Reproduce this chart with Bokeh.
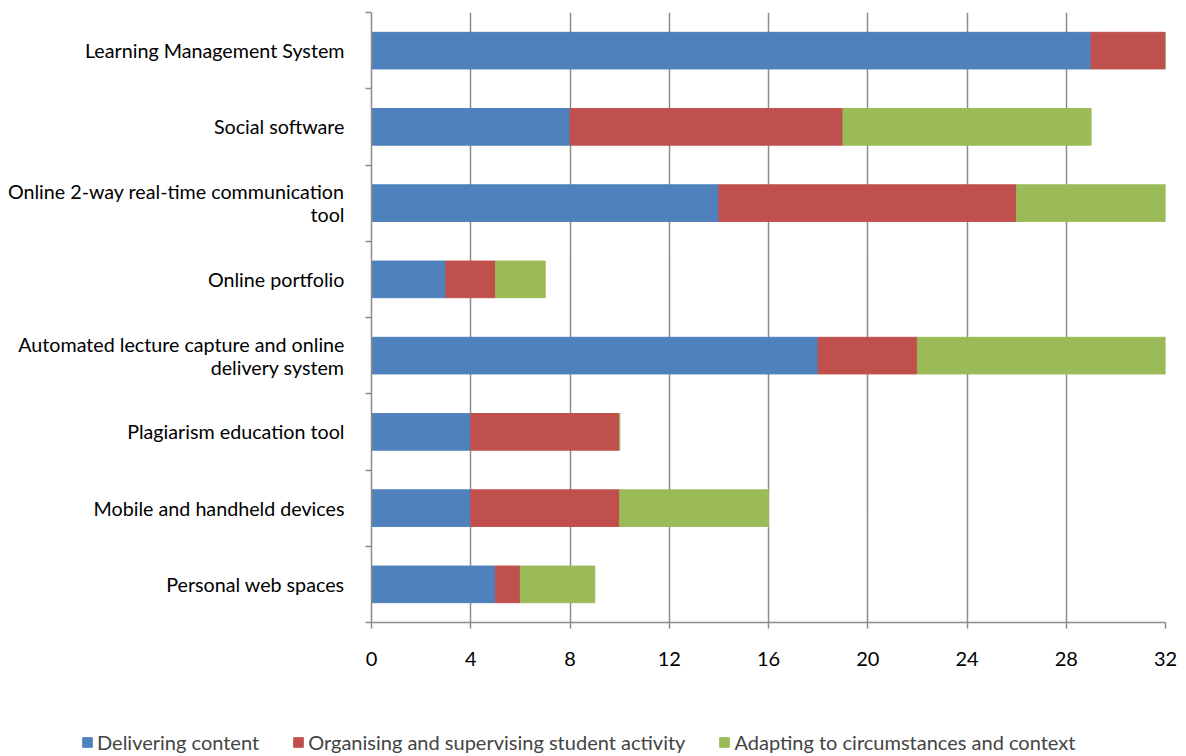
from bokeh.plotting import figure
from bokeh.models import ColumnDataSource, FixedTicker, Legend, LegendItem, Range1d
from bokeh.layouts import column, row
from bokeh.embed import file_html
from bokeh.resources import INLINE

categories = [
    "Learning Management System",
    "Social software",
    "Online 2-way real-time communication\ntool",
    "Online portfolio",
    "Automated lecture capture and online\ndelivery system",
    "Plagiarism education tool",
    "Mobile and handheld devices",
    "Personal web spaces",
]
delivering = [29, 8, 14, 3, 18, 4, 4, 5]
organising = [3, 11, 12, 2, 4, 6, 6, 1]
adapting = [0, 10, 6, 2, 10, 0, 6, 3]
series_names = [
    "Delivering content",
    "Organising and supervising student activity",
    "Adapting to circumstances and context",
]
colors = ["#4F81BD", "#C0504D", "#9BBB59"]
x_ticks = [0, 4, 8, 12, 16, 20, 24, 28, 32]

FONT = "Lato"
FS = "20px"
n = len(categories)
ypos = [n - i - 0.5 for i in range(n)]
b0 = [0] * n
b1 = delivering[:]
b2 = [d + o for d, o in zip(delivering, organising)]
e2 = [a + b for a, b in zip(b2, adapting)]

src = ColumnDataSource(dict(y=ypos, l0=b0, r0=b1, l1=b1, r1=b2, l2=b2, r2=e2))

p = figure(width=1186, height=716, output_backend="svg", toolbar_location=None,
           x_range=Range1d(0, 32), y_range=Range1d(0, n),
           min_border_left=371, min_border_right=21, min_border_top=12,
           min_border_bottom=94)
p.outline_line_color = None

H = 0.48
p.hbar(y="y", left="l0", right="r0", height=H, color=colors[0], source=src)
p.hbar(y="y", left="l1", right="r1", height=H, color=colors[1], source=src)
p.hbar(y="y", left="l2", right="r2", height=H, color=colors[2], source=src)

grey = "#8C8C8C"
# x axis
p.xaxis.ticker = FixedTicker(ticks=x_ticks)
p.xaxis.axis_line_color = grey
p.xaxis.axis_line_width = 1.5
p.xaxis.major_tick_line_color = grey
p.xaxis.major_tick_line_width = 1.5
p.xaxis.major_tick_out = 6
p.xaxis.major_tick_in = 0
p.xaxis.minor_tick_line_color = None
p.xaxis.major_label_standoff = 23
p.xaxis.major_label_text_font = FONT
p.xaxis.major_label_text_font_size = FS
p.xaxis.major_label_text_color = "#000000"

# y axis
p.yaxis.ticker = FixedTicker(ticks=ypos, minor_ticks=list(range(n + 1)))
p.yaxis.major_label_overrides = {y: c for y, c in zip(ypos, categories)}
p.yaxis.axis_line_color = grey
p.yaxis.axis_line_width = 1.5
p.yaxis.major_tick_line_color = None
p.yaxis.major_tick_out = 0
p.yaxis.major_tick_in = 0
p.yaxis.minor_tick_line_color = grey
p.yaxis.minor_tick_line_width = 1.5
p.yaxis.minor_tick_out = 6
p.yaxis.minor_tick_in = 0
p.yaxis.major_label_standoff = 21
p.yaxis.major_label_text_font = FONT
p.yaxis.major_label_text_font_size = "19.7px"
p.yaxis.major_label_text_line_height = 1.0
p.yaxis.major_label_text_color = "#000000"

p.xgrid.ticker = FixedTicker(ticks=x_ticks)
p.xgrid.grid_line_color = grey
p.xgrid.grid_line_width = 1.5
p.ygrid.grid_line_color = None

# legend strip (its own plot, frame spans the whole strip)
lf = figure(width=1186, height=40, output_backend="svg", toolbar_location=None,
            x_range=Range1d(0, 1), y_range=Range1d(0, 1),
            x_axis_location=None, y_axis_location=None,
            min_border=0, min_border_left=0, min_border_right=0,
            min_border_top=0, min_border_bottom=0)
lf.outline_line_color = None
lf.grid.visible = False
nan = float("nan")
hidden = ColumnDataSource(dict(y=[nan], l=[nan], r=[nan]))
lr = [lf.hbar(y="y", left="l", right="r", height=1, color=c, source=hidden) for c in colors]

legend = Legend(items=[LegendItem(label=s, renderers=[r]) for s, r in zip(series_names, lr)],
                orientation="horizontal", location=(81, 2),
                label_text_font=FONT, label_text_font_size=FS,
                glyph_width=12, glyph_height=12, label_standoff=4, spacing=33,
                border_line_color=None, background_fill_alpha=0,
                padding=0, margin=0)
lf.add_layout(legend, "center")

layout = column(p, row(lf), spacing=0)
open("out.html", "w").write(file_html(layout, INLINE))
